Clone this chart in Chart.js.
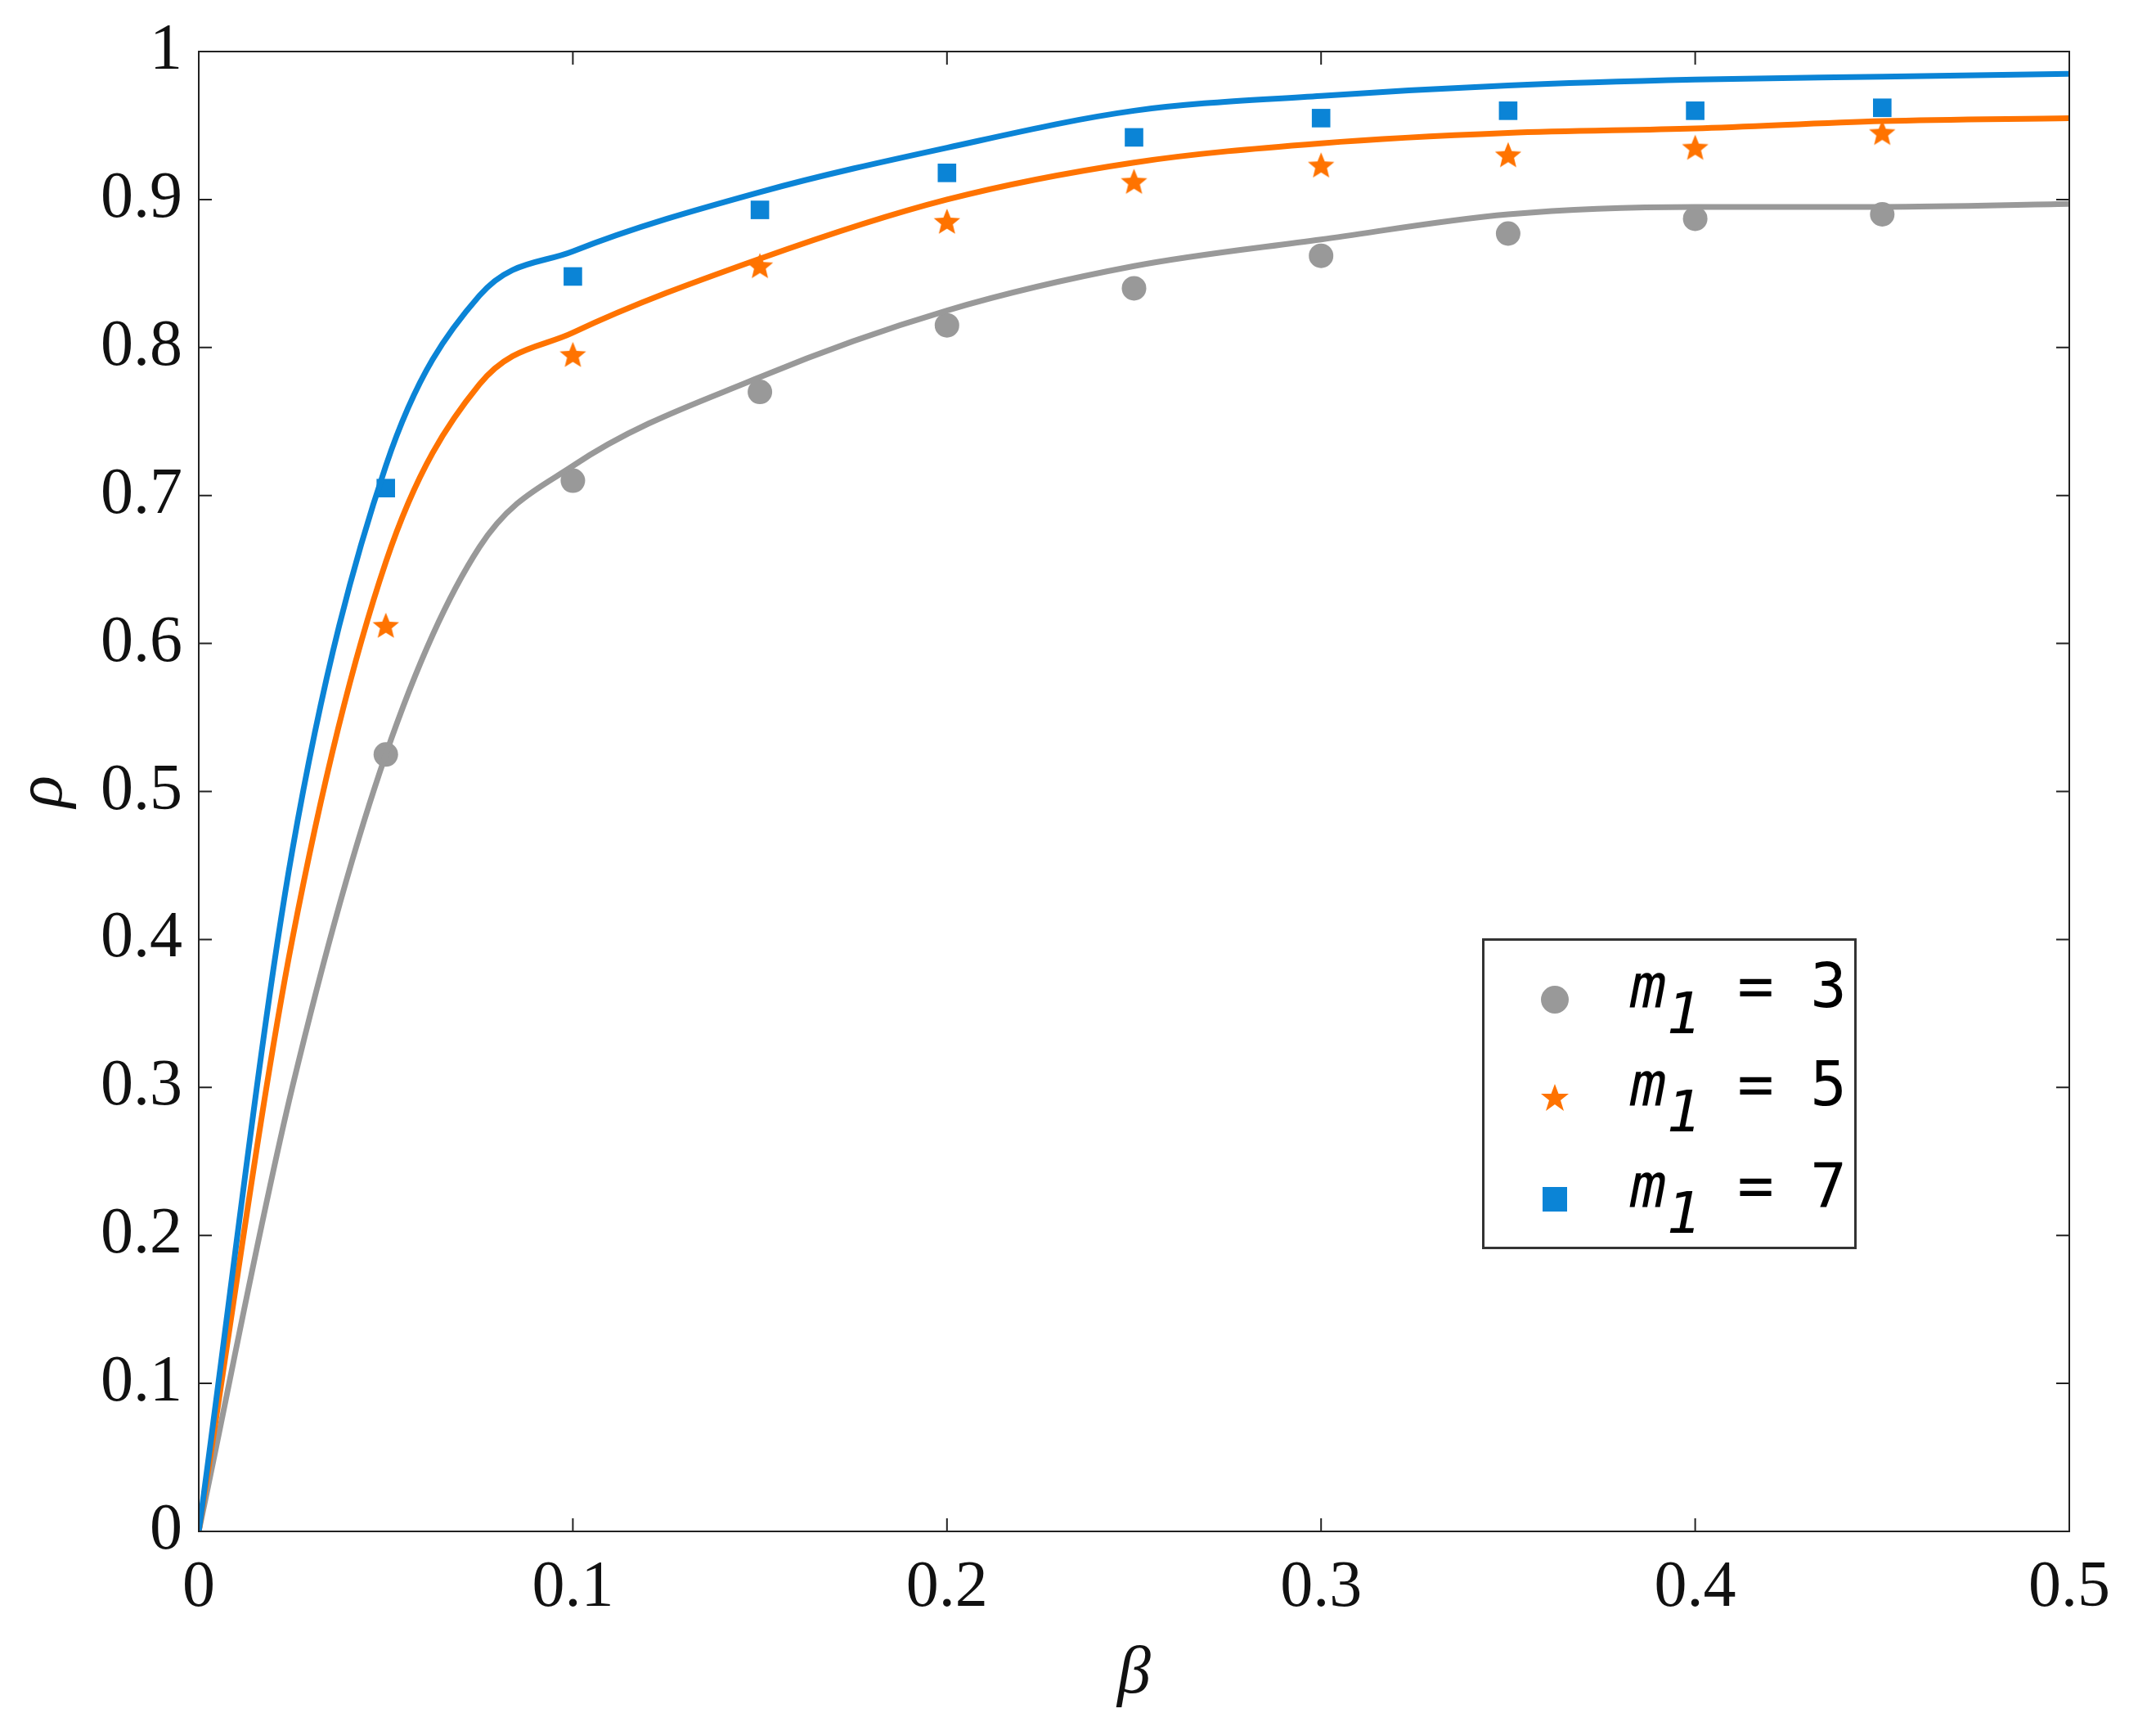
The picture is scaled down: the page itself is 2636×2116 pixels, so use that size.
<!DOCTYPE html>
<html><head><meta charset="utf-8">
<script src="https://cdn.jsdelivr.net/npm/chart.js@4.4.1/dist/chart.umd.min.js"></script>
<style>
html,body{margin:0;padding:0;background:#fff;}
#wrap{position:relative;width:2636px;height:2116px;}
#lg{position:absolute;left:1812px;top:1147px;width:458px;height:380px;border:3px solid #333;background:#fff;box-sizing:border-box;}
.row{position:absolute;left:0;width:100%;height:120px;font-family:"DejaVu Sans Mono",monospace;font-size:74px;color:#000;}
.lab{position:absolute;left:178px;top:0;white-space:pre;}
.lab i sub{font-size:70px;vertical-align:-0.45em;}
.mk{position:absolute;left:66px;top:40px;}
</style></head><body>
<div id="wrap"><canvas id="c" width="2636" height="2116"></canvas>
<div id="lg">
 <div class="row" style="top:12px"><svg class="mk" width="40" height="40"><circle cx="20" cy="20" r="17" fill="#999"/></svg><span class="lab"><i>m<sub>1</sub></i> = 3</span></div>
 <div class="row" style="top:132px"><svg class="mk" width="40" height="40"><polygon fill="#ff7300" points="20,3 24.5,15 37,15 27,23 31,36 20,28 9,36 13,23 3,15 15.5,15"/></svg><span class="lab"><i>m<sub>1</sub></i> = 5</span></div>
 <div class="row" style="top:256px"><svg class="mk" width="40" height="40"><rect x="5" y="5" width="30" height="30" fill="#0b84d6"/></svg><span class="lab"><i>m<sub>1</sub></i> = 7</span></div>
</div></div>
<script>
const markerX = [0.05,0.10,0.15,0.20,0.25,0.30,0.35,0.40,0.45];
const grayPts   = [0.525,0.71,0.77,0.815,0.84,0.862,0.877,0.887,0.89];
const orangePts = [0.612,0.795,0.855,0.885,0.912,0.923,0.93,0.935,0.945];
const bluePts   = [0.705,0.848,0.893,0.918,0.942,0.955,0.96,0.96,0.962];
const lineX = [0,0.025,0.05,0.075,0.1,0.15,0.2,0.25,0.3,0.35,0.4,0.45,0.5];
const grayLine   = [0,0.30,0.525,0.665,0.72,0.78,0.825,0.855,0.873,0.89,0.895,0.895,0.897];
const orangeLine = [0,0.40,0.655,0.775,0.81,0.86,0.90,0.925,0.938,0.945,0.948,0.953,0.955];
const blueLine   = [0,0.46,0.72,0.835,0.865,0.905,0.935,0.96,0.97,0.977,0.981,0.983,0.985];
const xTicks = [0,0.1,0.2,0.3,0.4,0.5];
const yTicks = [0,0.1,0.2,0.3,0.4,0.5,0.6,0.7,0.8,0.9,1];

const GRAY='#999999', ORANGE='#ff7300', BLUE='#0b84d6';
function pts(xs,ys){return xs.map((x,i)=>({x:x,y:ys[i]}));}
const star=document.createElement('canvas');star.width=36;star.height=36;
(function(){const g=star.getContext('2d');g.fillStyle=ORANGE;g.beginPath();
for(let i=0;i<10;i++){const r=i%2?7.5:17,a=-Math.PI/2+i*Math.PI/5;g.lineTo(18+r*Math.cos(a),19+r*Math.sin(a));}
g.closePath();g.fill();})();

const frame={id:'frame',afterDraw(ch){const c=ch.ctx,a=ch.chartArea,xs=ch.scales.x,ys=ch.scales.y,L=16;
c.save();c.strokeStyle='#222';c.lineWidth=2;c.strokeRect(a.left,a.top,a.right-a.left,a.bottom-a.top);
c.beginPath();
xTicks.forEach(v=>{const p=xs.getPixelForValue(v);c.moveTo(p,a.bottom);c.lineTo(p,a.bottom-L);c.moveTo(p,a.top);c.lineTo(p,a.top+L);});
yTicks.forEach(v=>{const p=ys.getPixelForValue(v);c.moveTo(a.left,p);c.lineTo(a.left+L,p);c.moveTo(a.right,p);c.lineTo(a.right-L,p);});
c.stroke();c.restore();}};

new Chart(document.getElementById('c'),{
 type:'scatter',
 data:{datasets:[
  {data:pts(lineX,blueLine),showLine:true,borderColor:BLUE,borderWidth:7,pointRadius:0,cubicInterpolationMode:'monotone'},
  {data:pts(lineX,orangeLine),showLine:true,borderColor:ORANGE,borderWidth:7,pointRadius:0,cubicInterpolationMode:'monotone'},
  {data:pts(lineX,grayLine),showLine:true,borderColor:GRAY,borderWidth:7,pointRadius:0,cubicInterpolationMode:'monotone'},
  {data:pts(markerX,grayPts),pointStyle:'circle',pointRadius:15,backgroundColor:GRAY,borderWidth:0},
  {data:pts(markerX,orangePts),pointStyle:star,backgroundColor:ORANGE},
  {data:pts(markerX,bluePts),pointStyle:'rect',pointRadius:16,backgroundColor:BLUE,borderWidth:0}
 ]},
 options:{responsive:false,animation:false,devicePixelRatio:1,
  layout:{padding:{top:63,right:106,left:0,bottom:15}},
  plugins:{legend:{display:false},tooltip:{enabled:false}},
  scales:{
   x:{type:'linear',min:0,max:0.5,afterBuildTicks:s=>{s.ticks=xTicks.map(v=>({value:v}));},
      afterFit:s=>{s.height=229;},
      grid:{display:false},border:{display:false},
      ticks:{color:'#111',font:{family:'Liberation Serif',size:80},padding:14,maxRotation:0,callback:v=>String(v)},
      title:{display:true,text:'β',color:'#111',font:{family:'Liberation Serif',size:82,style:'italic'},padding:{top:0}}},
   y:{type:'linear',min:0,max:1,afterBuildTicks:s=>{s.ticks=yTicks.map(v=>({value:v}));},
      afterFit:s=>{s.width=243;},
      grid:{display:false},border:{display:false},
      ticks:{color:'#111',font:{family:'Liberation Serif',size:80},padding:12,callback:v=>String(v)},
      title:{display:true,text:'ρ',color:'#111',font:{family:'Liberation Serif',size:82,style:'italic'},padding:{bottom:0}}}
  }},
 plugins:[frame]
});
</script></body></html>
